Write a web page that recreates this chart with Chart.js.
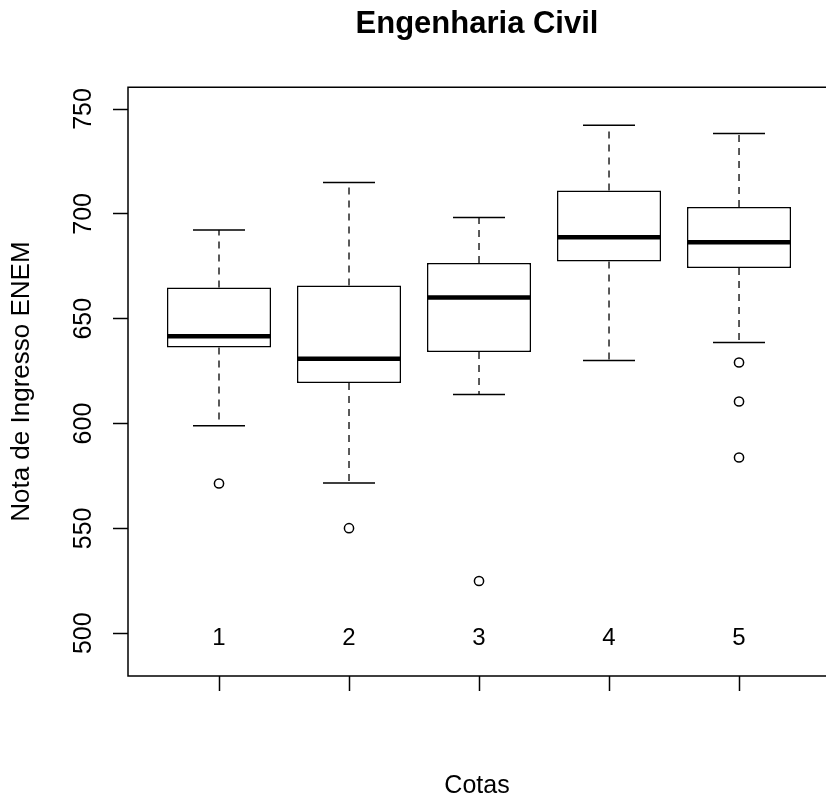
<!DOCTYPE html>
<html>
<head>
<meta charset="utf-8">
<script src="https://cdn.jsdelivr.net/npm/chart.js@4"></script>
<style>
html, body { margin: 0; padding: 0; background: #fff; overflow: hidden; }
canvas { display: block; }
</style>
</head>
<body>
<canvas id="chart" width="826" height="797"></canvas>
<script>
// boxplot values, one per cota
const cotas = [1, 2, 3, 4, 5]
const lowerWhisker = [598.9, 571.6, 613.8, 630.1, 638.6]
const q1 = [636.3, 619.3, 634.1, 677.3, 674.2]
const median = [641.6, 630.9, 660.1, 688.9, 686.5]
const q3 = [664.9, 665.8, 676.6, 711.1, 703.3]
const upperWhisker = [692.3, 714.9, 698.3, 742.3, 738.3]
const outliers = [[571.4], [550.1], [524.9], [], [629.1, 610.5, 583.8]]
const yTicks = [500, 550, 600, 650, 700, 750]

const FONT = '"Liberation Sans", Arial, sans-serif'

// turns a list of [x1, y1, x2, y2] into line points with gaps between them
function segs(list) {
    const pts = []
    list.forEach(s => {
        pts.push({x: s[0], y: s[1]}, {x: s[2], y: s[3]}, {x: s[2], y: null})
    })
    return pts
}

const boxData = cotas.map((c, i) => ({x: c, y: [q1[i], q3[i]]}))
const medianData = segs(cotas.map((c, i) => [c - 0.4, median[i], c + 0.4, median[i]]))
const whiskerData = segs(cotas.flatMap((c, i) => [
    [c, q3[i], c, upperWhisker[i]],
    [c, q1[i], c, lowerWhisker[i]]
]))
const capData = segs(cotas.flatMap((c, i) => [
    [c - 0.2, upperWhisker[i], c + 0.2, upperWhisker[i]],
    [c - 0.2, lowerWhisker[i], c + 0.2, lowerWhisker[i]]
]))
const outlierData = cotas.flatMap((c, i) => outliers[i].map(v => ({x: c, y: v})))

// frame around the plot (its right side falls off the picture, as in R's output)
// and R-style tick labels (rotated on y, inside the box on x)
const rStyle = {
    id: 'rStyle',
    afterDraw(chart) {
        const {ctx, chartArea: a, scales: {x, y}} = chart
        ctx.save()
        ctx.strokeStyle = '#000'
        ctx.lineWidth = 1.5
        ctx.beginPath()
        ctx.moveTo(a.right + 10, a.top)
        ctx.lineTo(a.left, a.top)
        ctx.lineTo(a.left, a.bottom)
        ctx.lineTo(a.right + 10, a.bottom)
        ctx.stroke()
        ctx.fillStyle = '#000'
        ctx.textAlign = 'center'
        ctx.textBaseline = 'alphabetic'
        ctx.font = '25px ' + FONT
        y.ticks.forEach(t => {
            ctx.save()
            ctx.translate(a.left - 37, y.getPixelForValue(t.value))
            ctx.rotate(-Math.PI / 2)
            ctx.fillText(String(t.value), 0, 0)
            ctx.restore()
        })
        ctx.font = '24px ' + FONT
        x.ticks.forEach(t => {
            ctx.fillText(String(t.value), x.getPixelForValue(t.value), a.bottom - 31)
        })
        ctx.restore()
    }
}

const ctx = document.getElementById('chart').getContext('2d')

const chart = new Chart(ctx, {
    type: 'bar',
    data: {
        datasets: [
            {
                type: 'line',
                label: 'Mediana',
                data: medianData,
                borderColor: '#000',
                borderWidth: 4.5,
                borderCapStyle: 'butt',
                pointRadius: 0,
                spanGaps: false,
                order: 0
            },
            {
                type: 'scatter',
                label: 'Outliers',
                data: outlierData,
                pointRadius: 4.6,
                pointBorderWidth: 1.5,
                pointBackgroundColor: '#fff',
                pointBorderColor: '#000',
                order: 1
            },
            {
                type: 'bar',
                label: 'Caixa',
                data: boxData,
                backgroundColor: '#fff',
                borderColor: '#000',
                borderWidth: 1.5,
                borderSkipped: false,
                barPercentage: 0.8,
                categoryPercentage: 1,
                order: 2
            },
            {
                type: 'line',
                label: 'Bigodes',
                data: whiskerData,
                borderColor: '#000',
                borderWidth: 1.3,
                borderDash: [7, 6],
                borderCapStyle: 'butt',
                pointRadius: 0,
                spanGaps: false,
                order: 3
            },
            {
                type: 'line',
                label: 'Limites',
                data: capData,
                borderColor: '#000',
                borderWidth: 1.5,
                pointRadius: 0,
                spanGaps: false,
                order: 3
            }
        ]
    },
    options: {
        responsive: false,
        animation: false,
        devicePixelRatio: 1,
        layout: { padding: 0, autoPadding: false },
        plugins: {
            legend: { display: false },
            tooltip: { enabled: false },
            title: {
                display: true,
                fullSize: false,
                text: 'Engenharia Civil',
                color: '#000',
                font: { family: FONT, size: 31, weight: 'bold', lineHeight: 1.2 },
                padding: { top: 6, bottom: 44 }
            }
        },
        scales: {
            x: {
                type: 'linear',
                min: 0.3,
                max: 5.669,
                offset: false,
                afterBuildTicks: s => { s.ticks = cotas.map(v => ({value: v})) },
                afterFit: s => { s.height = 121 },
                grid: { offset: false, drawOnChartArea: false, drawTicks: true, tickLength: 15, tickColor: '#000', tickWidth: 1.5 },
                border: { display: false },
                ticks: { display: false },
                title: {
                    display: true,
                    text: 'Cotas',
                    color: '#000',
                    font: { family: FONT, size: 25, lineHeight: 0.85 },
                    padding: { top: 0, bottom: 0 }
                }
            },
            y: {
                min: 479.6,
                max: 760.4,
                afterBuildTicks: s => { s.ticks = yTicks.map(v => ({value: v})) },
                afterFit: s => { s.width = 128 },
                grid: { drawOnChartArea: false, drawTicks: true, tickLength: 15, tickColor: '#000', tickWidth: 1.5 },
                border: { display: false },
                ticks: { display: false },
                title: {
                    display: true,
                    text: 'Nota de Ingresso ENEM',
                    color: '#000',
                    font: { family: FONT, size: 26, lineHeight: 1.2 },
                    padding: { top: 6, bottom: 0 }
                }
            }
        }
    },
    plugins: [rStyle]
})
</script>
</body>
</html>
